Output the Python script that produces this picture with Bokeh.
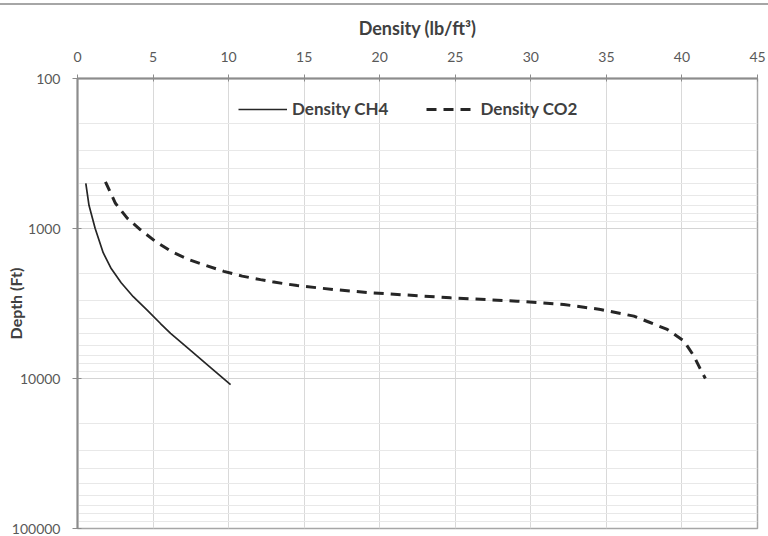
from bokeh.embed import file_html
from bokeh.models import (ColumnDataSource, FixedTicker, Legend, LegendItem,
                          LinearAxis, LogAxis, NumeralTickFormatter, Range1d)
from bokeh.plotting import figure
from bokeh.resources import INLINE

# Gas density versus depth
depth_ch4 = [500, 700, 1000, 1450, 1850, 2300, 2850, 3500, 4300, 5000, 6500,
             8450, 11000]
density_ch4 = [0.55, 0.76, 1.17, 1.70, 2.23, 2.89, 3.69, 4.61, 5.49, 6.16, 7.48,
               8.81, 10.13]

depth_co2 = [488, 679, 853, 1020, 1220, 1435, 1614, 1761, 1930, 2078, 2192,
             2277, 2402, 2553, 2686, 2899, 3052, 3211, 3466, 3840, 4200, 4706,
             5626, 7078, 8500, 10000]
density_co2 = [1.85, 2.51, 3.29, 4.17, 5.16, 6.27, 7.37, 8.47, 9.68, 10.90,
               12.11, 12.99, 14.54, 16.96, 19.50, 24.69, 29.10, 32.18, 34.61,
               36.82, 37.8, 39.03, 40.13, 40.79, 41.18, 41.55]

x_ticks = [0, 5, 10, 15, 20, 25, 30, 35, 40, 45]
y_ticks = [100, 1000, 10000, 100000]
y_minor = [m * d for d in (100, 1000, 10000) for m in range(2, 10)]

FONT = "Lato"
TICK_COLOR = "#595959"
TITLE_COLOR = "#404040"
AXIS_COLOR = "#8c8c8c"

p = figure(
    width=768, height=531,
    x_range=Range1d(0, 45), y_range=Range1d(100000, 100),
    y_axis_type="log", x_axis_location=None, y_axis_location=None,
    output_backend="svg", toolbar_location=None,
    min_border_left=77, min_border_right=11, min_border_top=73,
    min_border_bottom=8,
)
p.background_fill_color = "white"
p.border_fill_color = "white"
p.outline_line_color = "#a6a6a6"
p.outline_line_width = 1.5
# thin rule along the top edge of the page
p.styles = {"margin-top": "5px", "box-shadow": "0 -2px 0 0 #a6a6a6"}

# Density axis along the top
xaxis = LinearAxis(ticker=FixedTicker(ticks=x_ticks), axis_label="Density (lb/ft³)")
xaxis.axis_label_text_font = FONT
xaxis.axis_label_text_font_size = "18px"
xaxis.axis_label_text_font_style = "bold"
xaxis.axis_label_text_color = TITLE_COLOR
xaxis.axis_label_standoff = 10
xaxis.major_label_text_font = FONT
xaxis.major_label_text_font_size = "14px"
xaxis.major_label_text_color = TICK_COLOR
xaxis.major_label_standoff = 13
xaxis.axis_line_color = AXIS_COLOR
xaxis.axis_line_width = 2
xaxis.major_tick_line_color = AXIS_COLOR
xaxis.major_tick_in = 3
xaxis.major_tick_out = 4
xaxis.minor_tick_line_color = None
p.add_layout(xaxis, "above")

# Logarithmic depth axis, deeper toward the bottom; the title tucks in
# beside the tick labels
yaxis = LogAxis(ticker=FixedTicker(ticks=y_ticks, minor_ticks=y_minor),
                axis_label="Depth (Ft)")
yaxis.formatter = NumeralTickFormatter(format="0")
yaxis.axis_label_text_font = FONT
yaxis.axis_label_text_font_size = "16px"
yaxis.axis_label_text_font_style = "bold"
yaxis.axis_label_text_color = TITLE_COLOR
yaxis.axis_label_standoff = -16
yaxis.major_label_text_font = FONT
yaxis.major_label_text_font_size = "14px"
yaxis.major_label_text_color = TICK_COLOR
yaxis.major_label_standoff = 12
yaxis.axis_line_color = AXIS_COLOR
yaxis.axis_line_width = 2
yaxis.major_tick_line_color = AXIS_COLOR
yaxis.major_tick_in = 4
yaxis.major_tick_out = 5
yaxis.minor_tick_line_color = None
p.add_layout(yaxis, "left")

p.xgrid.ticker = FixedTicker(ticks=x_ticks)
p.xgrid.grid_line_color = "#d9d9d9"
p.ygrid.ticker = FixedTicker(ticks=y_ticks, minor_ticks=y_minor)
p.ygrid.grid_line_color = "#d4d4d4"
p.ygrid.minor_grid_line_color = "#e8e8e8"

src_ch4 = ColumnDataSource(dict(x=density_ch4, y=depth_ch4))
src_co2 = ColumnDataSource(dict(x=density_co2, y=depth_co2))

r_ch4 = p.line("x", "y", source=src_ch4, line_color="#262626", line_width=1.7)
r_co2 = p.line("x", "y", source=src_co2, line_color="#262626", line_width=3,
               line_dash="10 7")

legend = Legend(
    items=[LegendItem(label="Density CH4", renderers=[r_ch4]),
           LegendItem(label="Density CO2", renderers=[r_co2])],
    orientation="horizontal", location=(161, 409),
    padding=0, margin=0, spacing=38, label_standoff=5,
    glyph_width=49, glyph_height=20,
    border_line_color=None, background_fill_alpha=0,
    label_text_font=FONT, label_text_font_size="17px",
    label_text_font_style="bold", label_text_color=TITLE_COLOR,
)
p.add_layout(legend, "center")

open("out.html", "w").write(file_html(p, INLINE))
